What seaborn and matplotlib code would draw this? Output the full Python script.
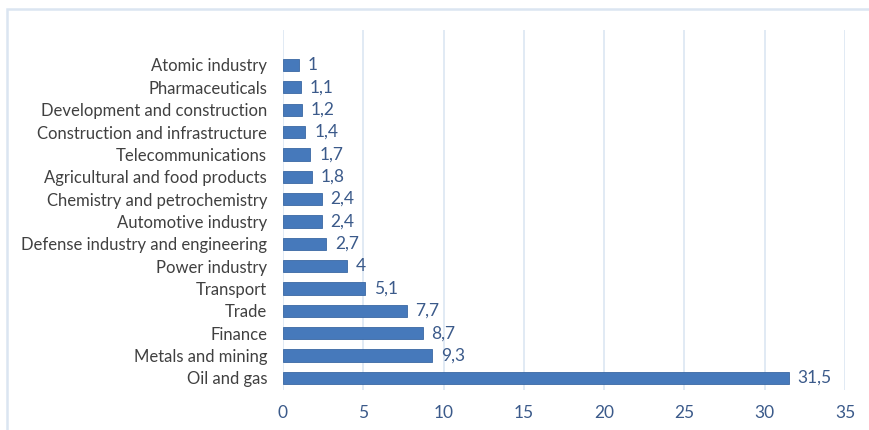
import matplotlib
matplotlib.use("Agg")
import matplotlib.pyplot as plt
import seaborn as sns
import pandas as pd
from matplotlib.patches import Rectangle

categories = [
    "Atomic industry", "Pharmaceuticals", "Development and construction",
    "Construction and infrastructure", "Telecommunications",
    "Agricultural and food products", "Chemistry and petrochemistry",
    "Automotive industry", "Defense industry and engineering",
    "Power industry", "Transport", "Trade", "Finance",
    "Metals and mining", "Oil and gas",
]
values = [1, 1.1, 1.2, 1.4, 1.7, 1.8, 2.4, 2.4, 2.7, 4, 5.1, 7.7, 8.7, 9.3, 31.5]
xticks = [0, 5, 10, 15, 20, 25, 30, 35]

df = pd.DataFrame({"category": categories, "value": values})

sns.set_theme(style="white")
plt.rcParams["font.family"] = ["Lato", "DejaVu Sans"]

fig = plt.figure(figsize=(8.7, 4.3), dpi=100)
ax = fig.add_axes([283 / 870, 1 - 390 / 430, (845 - 283) / 870, 360 / 430])

sns.barplot(data=df, x="value", y="category", orient="h", color="#4679bb",
            saturation=1, width=0.55, ax=ax, zorder=3)
for p in ax.patches:
    p.set_edgecolor("#3a68a3")
    p.set_linewidth(0.6)

ax.set_xlim(0, 35)
ax.set_ylim(14.54, -1.565)
ax.set_xticks(xticks)
ax.set_xticklabels([str(t) for t in xticks], color="#3b5a8a", fontsize=12.5)
ax.tick_params(axis="x", length=0, pad=11)
ax.tick_params(axis="y", length=0, pad=11.5, labelsize=12, labelcolor="#404040")
ax.set_xlabel("")
ax.set_ylabel("")
ax.grid(axis="x", color="#dce6f2", linewidth=1.2, zorder=0)
for s in ax.spines.values():
    s.set_visible(False)

for i, v in enumerate(values):
    ax.text(v + 0.55, i, f"{v:g}".replace(".", ","), va="center", ha="left",
            color="#3b5a8a", fontsize=12.5)

fig.patches.append(Rectangle((7 / 870, -0.05), 1.1, 1 - 9 / 430 + 0.05,
                             transform=fig.transFigure, fill=False,
                             edgecolor="#dbe5f1", linewidth=1.8))

fig.savefig("out.png", dpi=100)
